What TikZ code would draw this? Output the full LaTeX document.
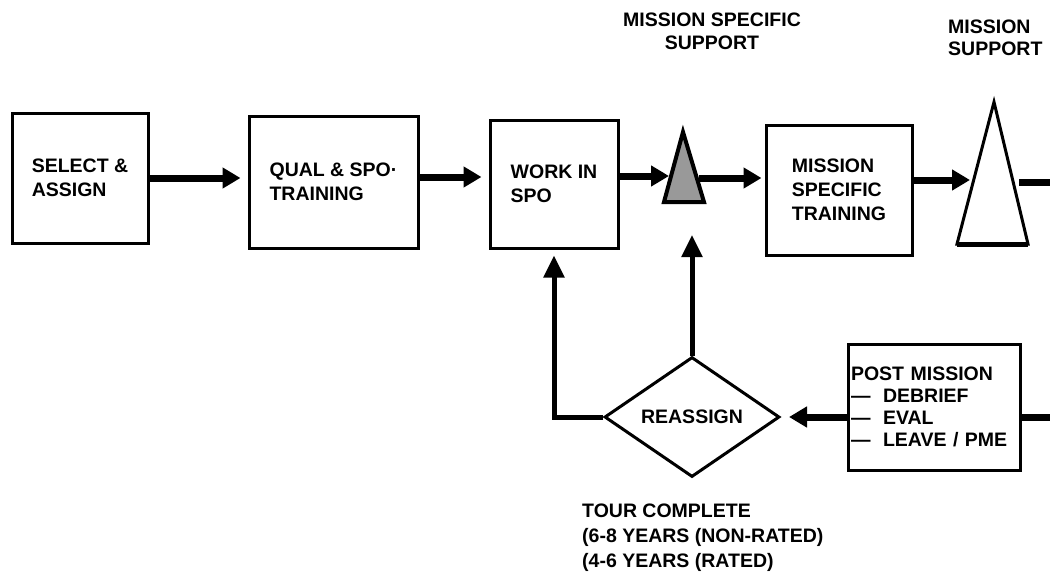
\documentclass[tikz,border=0pt]{standalone}
\usepackage{fontspec}
\setmainfont{Liberation Sans}
\usetikzlibrary{arrows.meta,shapes.geometric}
\begin{document}
\begin{tikzpicture}[x=1pt,y=-1pt,
  txt/.style={font=\bfseries\fontsize{19.5}{24}\selectfont},
  box/.style={draw, line width=3pt, inner xsep=0pt, inner ysep=0pt, align=left, txt},
  lbl/.style={txt, inner sep=0pt},
  flow/.style={line width=7pt, -{Triangle[length=18pt,width=20pt]}},
  upflow/.style={line width=5pt, -{Triangle[length=22pt,width=20pt]}},
  stub/.style={line width=7pt},
]
\useasboundingbox (0,0) rectangle (1050,578);
\fill[white] (0,0) rectangle (1050,578);

% boxes
\node[box, minimum width=136pt, minimum height=130pt] (b1) at (80,178) {SELECT \&\\ASSIGN};
\node[box, minimum width=169pt, minimum height=132pt] (b2) at (333.5,182) {QUAL \& SPO·\\TRAINING};
\node[box, minimum width=128pt, minimum height=128pt] (b3) at (554,184) {WORK IN\\SPO};
\node[box, minimum width=146pt, minimum height=130pt] (b4) at (839,190) {MISSION\\SPECIFIC\\TRAINING};
\node[box, minimum width=172pt, minimum height=126pt, text width=166pt, inner xsep=3pt,
      font=\bfseries\fontsize{19.5}{22}\selectfont] (pm) at (934,407)
  {POST MISSION\\\makebox[32pt][l]{—}DEBRIEF\\\makebox[32pt][l]{—}EVAL\\\makebox[32pt][l]{—}LEAVE / PME};

% triangles
\draw[line width=4pt, fill=black!40, line join=miter] (683,132) coordinate (t1a) -- (704,202) coordinate (t1r) -- (664,202) coordinate (t1l) -- cycle;
\coordinate (t1in) at (671,176);
\coordinate (t1out) at (699,178);
\coordinate (t1up) at (692,235);
\draw[line width=3pt, fill=white, line join=miter] (994,102) coordinate (t2a) -- (1028,244) coordinate (t2r) -- (957,244) coordinate (t2l) -- cycle;
\draw[line width=5pt] (957,244) -- (1028,244);
\coordinate (t2in) at (974,180);
\coordinate (t2out) at (1019,182);
\coordinate (e1) at (1050,182);

% diamond
\node[draw, diamond, line width=3pt, minimum width=175pt, minimum height=120pt, aspect=1.46, inner sep=0pt, lbl] (dia) at (692,417) {REASSIGN};
\coordinate (e2) at (1050,417);

% labels
\node[lbl, align=center, font=\bfseries\fontsize{19.5}{23}\selectfont] (ms) at (712,31) {MISSION SPECIFIC\\SUPPORT};
\node[lbl, align=left, anchor=west, font=\bfseries\fontsize{19.5}{22}\selectfont] (msup) at (948,38) {MISSION\\SUPPORT};
\node[lbl, align=left, anchor=west, font=\bfseries\fontsize{19.5}{25}\selectfont] (tour) at (582,538) {TOUR COMPLETE\\(6-8 YEARS (NON-RATED)\\(4-6 YEARS (RATED)};

% connectors
\draw[flow, shorten >=7pt] (b1.east) -- (b1.east -| b2.west);
\draw[flow, shorten >=7pt] ([yshift=5pt]b2.east) -- ([yshift=5pt]b2.east -| b3.west);
\draw[flow, shorten >=2pt] (b3.east |- t1in) -- (t1in);
\draw[flow, shorten >=3pt] (t1out) -- (t1out -| b4.west);
\draw[flow, shorten >=4pt] (b4.east |- t2in) -- (t2in);
\draw[stub] (t2out) -- (e1);
\draw[upflow] (dia.north) -- (t1up);
\draw[upflow] (dia.west) -| ([yshift=-6pt]b3.south);
\draw[flow] (pm.west |- dia.east) -- ([xshift=8pt]dia.east);
\draw[stub] (pm.east |- dia.east) -- (e2);
\end{tikzpicture}
\end{document}
